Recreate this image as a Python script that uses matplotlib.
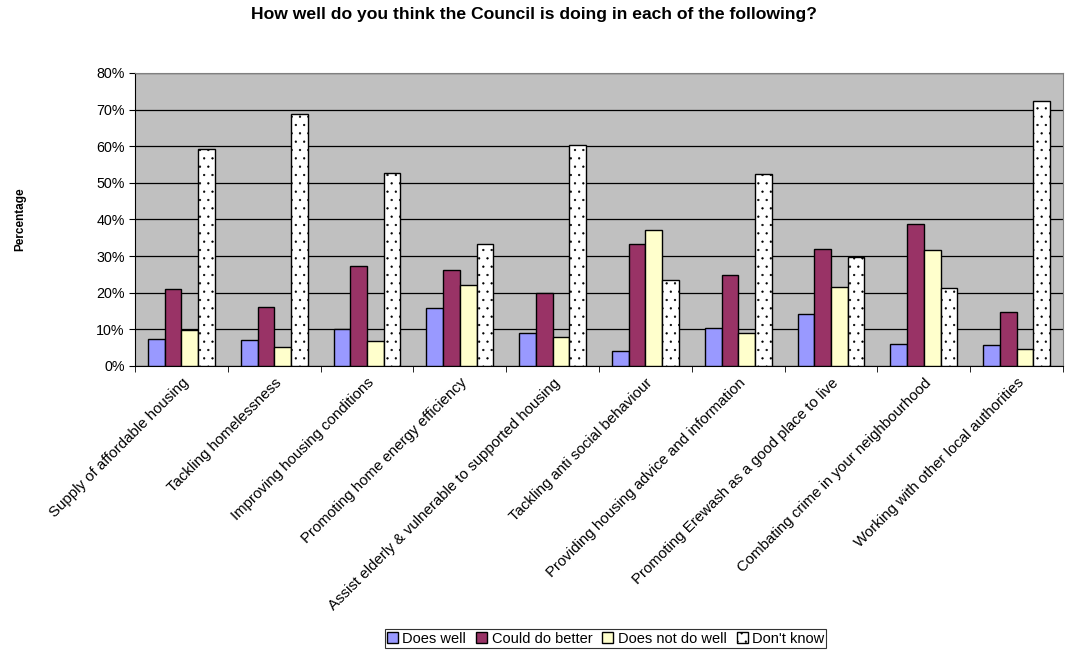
import matplotlib.pyplot as plt
import numpy as np

plt.rcParams['font.family'] = ['Liberation Sans', 'DejaVu Sans']
plt.rcParams['hatch.color'] = '#a8a8a8'
plt.rcParams['hatch.linewidth'] = 0.4

categories = ['Supply of affordable housing', 'Tackling homelessness',
              'Improving housing conditions', 'Promoting home energy efficiency',
              'Assist elderly & vulnerable to supported housing',
              'Tackling anti social behaviour',
              'Providing housing advice and information',
              'Promoting Erewash as a good place to live',
              'Combating crime in your neighbourhood',
              'Working with other local authorities']

does_well = [7.4, 7.1, 10.2, 15.8, 9.1, 4.2, 10.3, 14.3, 6.0, 5.8]
could_do_better = [21.0, 16.2, 27.3, 26.2, 19.8, 33.3, 24.8, 32.0, 38.7, 14.7]
does_not_do_well = [9.8, 5.3, 6.8, 22.2, 8.0, 37.0, 9.1, 21.5, 31.6, 4.5]
dont_know = [59.3, 68.7, 52.7, 33.2, 60.3, 23.6, 52.4, 29.8, 21.4, 72.4]

series = [('Does well', does_well, '#9999FF', None),
          ('Could do better', could_do_better, '#993366', None),
          ('Does not do well', does_not_do_well, '#FFFFCC', None),
          ("Don't know", dont_know, '#FFFFFF', '..')]

fig = plt.figure(figsize=(10.68, 6.5), dpi=100)
ax = fig.add_axes([0.1264, 0.437, 0.869, 0.4508])
ax.set_facecolor('#C0C0C0')

x = np.arange(len(categories))
w = 0.18
for i, (name, vals, col, hatch) in enumerate(series):
    ax.bar(x + (i - 1.5) * w, vals, w, color=col, edgecolor='black',
           linewidth=1.0, hatch=hatch, label=name, zorder=3)

ax.set_xlim(-0.5, len(categories) - 0.5)
ax.set_ylim(0, 80)
ax.set_yticks(np.arange(0, 81, 10))
ax.set_yticklabels(['%d%%' % v for v in range(0, 81, 10)], fontsize=10.3)
ax.yaxis.grid(True, color='black', linewidth=0.9, zorder=1)
ax.set_axisbelow(True)

ax.set_xticks(x)
ax.set_xticklabels(categories, rotation=45, ha='right', rotation_mode='anchor',
                   fontsize=10.8)
ax.tick_params(axis='x', which='major', length=0, pad=7)
ax.set_xticks(np.arange(-0.5, len(categories)), minor=True)
ax.tick_params(axis='x', which='minor', length=4, direction='out')
ax.tick_params(axis='y', length=4, direction='out')

for s in ['top', 'right']:
    ax.spines[s].set_color('#808080')
for s in ['left', 'bottom']:
    ax.spines[s].set_color('black')

ax.set_ylabel('Percentage', fontsize=8.5, fontweight='bold')
ax.yaxis.set_label_coords(-0.117, 0.5)
fig.text(0.5, 0.978, 'How well do you think the Council is doing in each of the following?',
         fontsize=12.6, fontweight='bold', ha='center', va='center')

leg = fig.legend(loc='lower center', bbox_to_anchor=(0.567, 0.0), ncol=4,
                 fontsize=10.5, frameon=True, fancybox=False, edgecolor='black',
                 handlelength=0.75, handleheight=0.75, handletextpad=0.3,
                 columnspacing=0.7, borderpad=0.15, borderaxespad=0.15)
leg.get_frame().set_linewidth(0.8)

fig.savefig('out.png', dpi=100)
